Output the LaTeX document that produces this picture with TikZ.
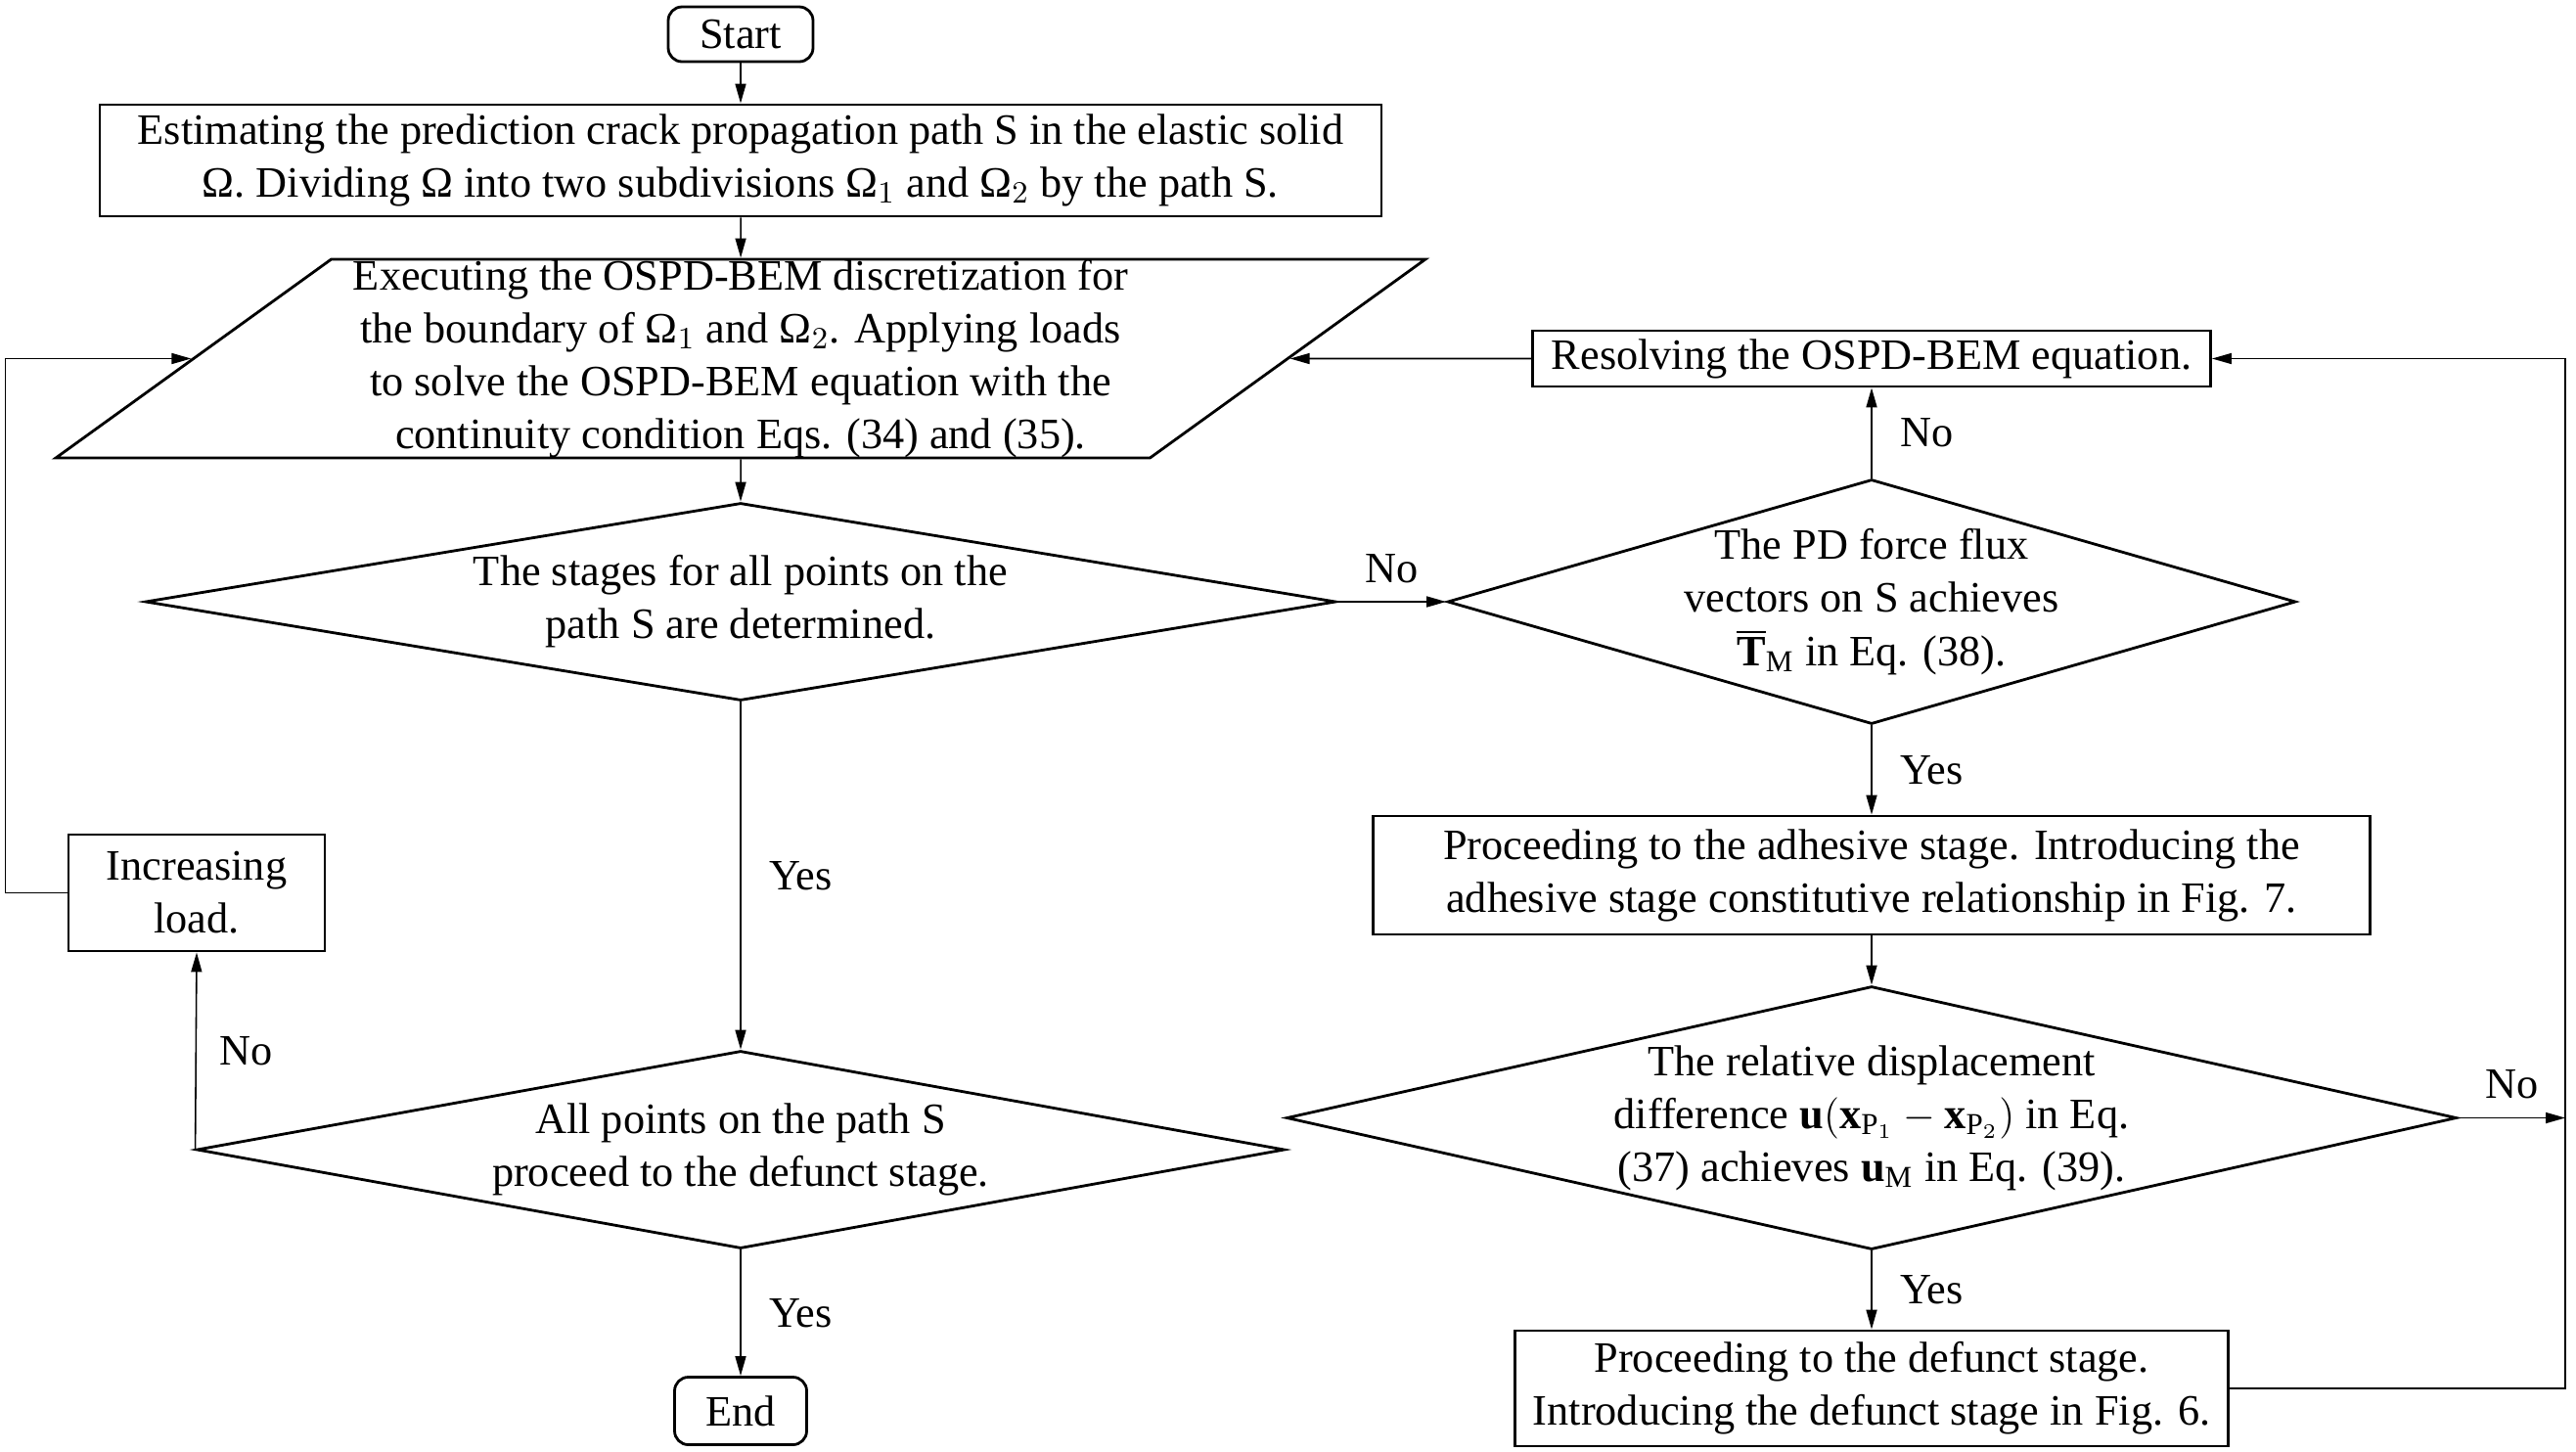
\documentclass[tikz,border=0pt]{standalone}
\usepackage{fontspec}
\setmainfont{Liberation Serif}
\usepackage{tikz}
\usetikzlibrary{arrows.meta,shapes.geometric}
\newcommand{\fsz}{\fontsize{12.6pt}{15.4pt}\selectfont}
\tikzset{
  proc/.style={draw, line width=0.8pt, align=center, inner sep=2pt, font=\fsz},
  term/.style={proc, rounded corners=4pt},
  io/.style={draw, line width=0.8pt, trapezium, trapezium left angle=35.8,
             trapezium right angle=144.2, trapezium stretches body,
             align=center, inner sep=0pt, font=\fsz},
  decision/.style={draw, line width=0.8pt, diamond, align=center,
             inner sep=-4pt, font=\fsz},
  flow/.style={-{Triangle[length=2mm, width=1.1mm]}, line width=0.45pt},
  lbl/.style={font=\fsz, inner sep=1pt},
}

\begin{document}
\begin{tikzpicture}
  \useasboundingbox (0,0) rectangle (26.33,-14.83);
  % main column
  \node[term, minimum width=1.48cm, minimum height=0.56cm] (start) at (7.57,-0.35) {Start};
  \node[proc, minimum width=13.1cm, minimum height=1.14cm] (est) at (7.57,-1.64)
    {Estimating the prediction crack propagation path S in the elastic solid\\
     Ω. Dividing Ω into two subdivisions Ω$_1$ and Ω$_2$ by the path S.};
  \node[io, minimum width=14cm, minimum height=2.03cm] (exec) at (7.57,-3.665)
    {Executing the OSPD-BEM discretization for\\
     the boundary of Ω$_1$ and Ω$_2$. Applying loads\\
     to solve the OSPD-BEM equation with the\\
     continuity condition Eqs. (34) and (35).};
  \node[decision, aspect=6.02, minimum width=12.17cm, minimum height=2.02cm] (stages) at (7.57,-6.15)
    {The stages for all points on the\\ path S are determined.};
  \node[decision, aspect=5.5, minimum width=11.12cm, minimum height=2.02cm] (allpts) at (7.57,-11.75)
    {All points on the path S\\ proceed to the defunct stage.};
  \node[proc, minimum width=2.62cm, minimum height=1.19cm] (incr) at (2.01,-9.125)
    {Increasing\\ load.};
  \node[term, minimum width=1.35cm, minimum height=0.69cm] (finish) at (7.57,-14.42) {End};

  % right column
  \node[proc, minimum width=6.93cm, minimum height=0.57cm] (resolve) at (19.13,-3.665)
    {Resolving the OSPD-BEM equation.};
  \node[decision, aspect=3.47, minimum width=8.67cm, minimum height=2.5cm] (flux) at (19.13,-6.15)
    {The PD force flux\\ vectors on S achieves\\
     $\overline{\mathbf{T}}_{\mathrm{M}}$ in Eq. (38).};
  \node[proc, minimum width=10.19cm, minimum height=1.21cm] (adhes) at (19.13,-8.945)
    {Proceeding to the adhesive stage. Introducing the\\
     adhesive stage constitutive relationship in Fig. 7.};
  \node[decision, aspect=4.45, minimum width=11.96cm, minimum height=2.69cm] (reldisp) at (19.13,-11.425)
    {The relative displacement\\
     difference $\mathbf{u}\bigl(\mathbf{x}_{\mathrm{P}_1}-\mathbf{x}_{\mathrm{P}_2}\bigr)$ in Eq.\\
     (37) achieves $\mathbf{u}_{\mathrm{M}}$ in Eq. (39).};
  \node[proc, minimum width=7.29cm, minimum height=1.18cm] (defunct) at (19.13,-14.19)
    {Proceeding to the defunct stage.\\ Introducing the defunct stage in Fig. 6.};
  \coordinate (rloop) at (26.22,-11.425);

  % connectors
  \draw[flow] (start) -- (est);
  \draw[flow] (est) -- (exec);
  \draw[flow] (exec) -- (stages);
  \draw[flow] (stages) -- node[lbl, right=2.5mm] {Yes} (allpts);
  \draw[flow] (allpts) -- node[lbl, right=2.5mm] {Yes} (finish);
  \draw[flow] (allpts.west) -- node[lbl, right=2mm] {No} (incr.south);
  \draw[flow] (incr.west) -- ++(-0.63,0) |- (exec.west);
  \draw[flow] (stages.east) -- node[lbl, above=1.5mm] {No} (flux.west);
  \draw[flow] (flux.north) -- node[lbl, right=2.5mm] {No} (resolve.south);
  \draw[flow] (resolve.west) -- (exec.east);
  \draw[flow] (flux.south) -- node[lbl, right=2.5mm] {Yes} (adhes.north);
  \draw[flow] (adhes) -- (reldisp);
  \draw[flow] (reldisp.south) -- node[lbl, right=2.5mm] {Yes} (defunct.north);
  \draw[flow] (reldisp.east) -- node[lbl, above=1.5mm] {No} (rloop);
  \draw[flow] (defunct.east) -| (rloop) |- (resolve.east);
\end{tikzpicture}
\end{document}
